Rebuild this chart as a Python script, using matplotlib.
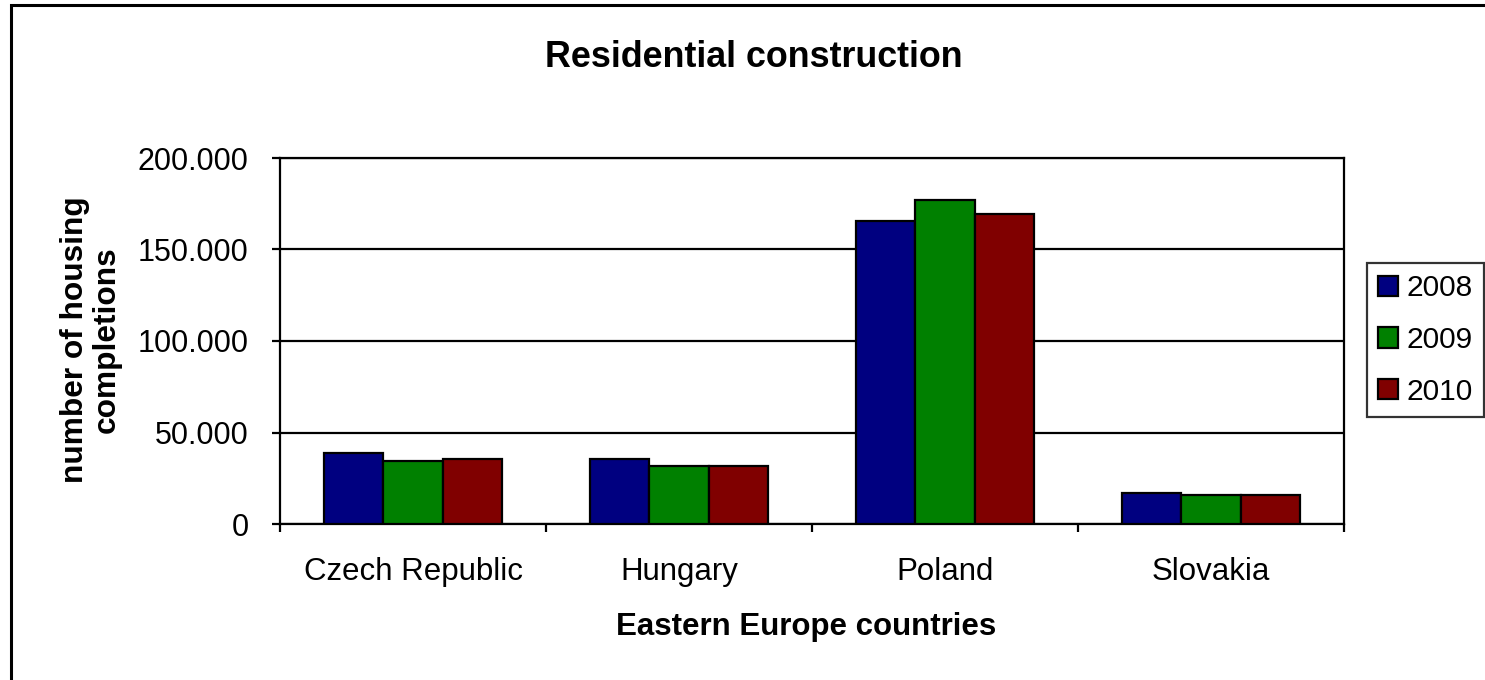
import matplotlib
matplotlib.use("Agg")
import matplotlib.pyplot as plt
from matplotlib.patches import Rectangle, Patch
from matplotlib.ticker import FuncFormatter, FixedLocator
import numpy as np

plt.rcParams['font.family'] = ['Liberation Sans', 'DejaVu Sans']

countries = ["Czech Republic", "Hungary", "Poland", "Slovakia"]
years = ["2008", "2009", "2010"]
completions = {
    "2008": [38600, 35700, 165400, 17000],
    "2009": [34400, 31500, 177000, 15800],
    "2010": [35700, 31800, 169400, 15800],
}
colors = {"2008": "#000080", "2009": "#008000", "2010": "#800000"}

W, H = 1485, 680
fig = plt.figure(figsize=(W / 100, H / 100), dpi=100)
fig.patch.set_facecolor("white")

# chart-area frame (left and top edges visible)
fig.add_artist(Rectangle((11 / W, -0.05), 1.1, (H - 5) / H + 0.05,
                         transform=fig.transFigure, fill=False,
                         edgecolor="black", linewidth=2.2))

ax = fig.add_axes([280 / W, 156 / H, (1344 - 280) / W, (524 - 158) / H])

x = np.arange(len(countries))
bw = 1 / 4.5
for i, yr in enumerate(years):
    ax.bar(x + (i - 1) * bw, completions[yr], width=bw, color=colors[yr],
           edgecolor="black", linewidth=1.6, zorder=3, label=yr)

ax.set_xlim(-0.5, len(countries) - 0.5)
ax.set_ylim(0, 200000)
ax.yaxis.set_major_locator(FixedLocator([0, 50000, 100000, 150000, 200000]))
ax.yaxis.set_major_formatter(FuncFormatter(lambda v, p: f"{int(v):,}".replace(",", ".")))
ax.grid(axis="y", color="black", linewidth=1.6, zorder=1)
ax.set_axisbelow(True)

ax.xaxis.set_major_locator(FixedLocator(np.arange(len(countries) + 1) - 0.5))
ax.xaxis.set_major_formatter(FuncFormatter(lambda v, p: ""))
ax.xaxis.set_minor_locator(FixedLocator(x))
ax.set_xticklabels(countries, minor=True)
ax.tick_params(axis="x", which="minor", length=0, pad=24, labelsize=22.5)
ax.tick_params(axis="x", which="major", length=6, width=1.6, direction="out")
ax.tick_params(axis="y", length=5.5, width=1.6, direction="out", pad=17, labelsize=22)

for s in ax.spines.values():
    s.set_color("black")
    s.set_linewidth(1.6)

fig.text(754 / W, (H - 67) / H, "Residential construction", ha="center",
         va="baseline", fontsize=25.8, fontweight="bold")
fig.text(806 / W, (H - 635) / H, "Eastern Europe countries", ha="center",
         va="baseline", fontsize=22.5, fontweight="bold")
fig.text(91 / W, (H - 340) / H, "number of housing\ncompletions", ha="center",
         va="center", rotation=90, multialignment="center", fontsize=22.8,
         fontweight="bold", linespacing=1.05)

handles = [Patch(facecolor=colors[yr], edgecolor="black", linewidth=1.6) for yr in years]
leg = fig.legend(handles, years, loc="upper left",
                 bbox_to_anchor=(1367 / W, (H - 263) / H),
                 fontsize=21.5, frameon=True, fancybox=False, shadow=False,
                 handlelength=0.67, handleheight=0.67, handletextpad=0.27,
                 labelspacing=0.79, borderpad=0.38, borderaxespad=0)
leg.get_frame().set_edgecolor("black")
leg.get_frame().set_linewidth(1.6)

fig.savefig("out.png", dpi=100, facecolor="white")
